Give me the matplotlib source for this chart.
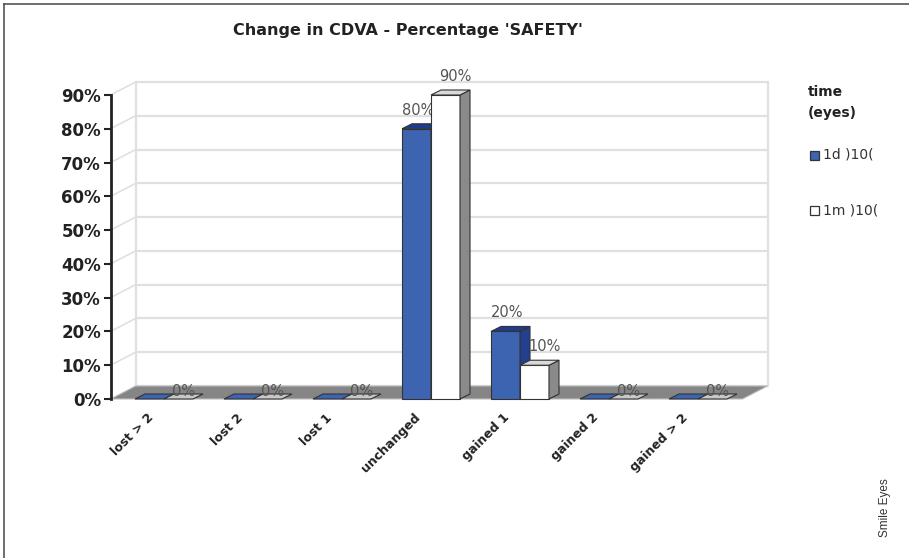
import matplotlib
matplotlib.use("Agg")
import matplotlib.pyplot as plt
from matplotlib.patches import Polygon
from matplotlib.lines import Line2D

categories = ['lost > 2', 'lost 2', 'lost 1', 'unchanged', 'gained 1', 'gained 2', 'gained > 2']
day1 = [0, 0, 0, 80, 20, 0, 0]
month1 = [0, 0, 0, 90, 10, 0, 0]
series_names = ['1d )10(', '1m )10(']
yticks = [0, 10, 20, 30, 40, 50, 60, 70, 80, 90]

# colours of the faux 3d bars: front, top, side
blue = ('#3d64b0', '#1f3d8c', '#22408e')
white = ('#ffffff', '#d9d9d9', '#8a8a8a')

fig = plt.figure(figsize=(9.09, 5.58), dpi=100)
ax = fig.add_axes([110.6 / 909, 159 / 558, 631.9 / 909, 304 / 558])
ax.set_xlim(-0.6, 6.5)
ax.set_ylim(0, 90)

# depth offsets in data units (wall and bars)
px_x = 631.9 / 7.1
px_y = 304 / 90
wdx, wdy = 25 / px_x, 13 / px_y
bdx, bdy = 10 / px_x, 5 / px_y
bw = 29 / px_x

x0, x1 = -0.6, 6.5

# back wall grid and left side wall
for t in yticks:
    ax.plot([x0 + wdx, x1 + wdx], [t + wdy, t + wdy], color='#e0e0e0', lw=1.6,
            zorder=1, clip_on=False, solid_capstyle='butt')
    if t > 0:
        ax.plot([x0, x0 + wdx], [t, t + wdy], color='#e0e0e0', lw=1.2,
                zorder=1, clip_on=False)
ax.plot([x0 + wdx, x0 + wdx], [wdy, 90 + wdy], color='#e0e0e0', lw=1.6, zorder=1, clip_on=False)
ax.plot([x1 + wdx, x1 + wdx], [wdy, 90 + wdy], color='#e0e0e0', lw=1.6, zorder=1, clip_on=False)

# floor
ax.add_patch(Polygon([(x0, 0), (x1, 0), (x1 + wdx, wdy), (x0 + wdx, wdy)],
                     closed=True, facecolor='#858585', edgecolor='#bdbdbd', lw=0.8,
                     zorder=2, clip_on=False))


def bar3d(left, h, cols, z, label_dx, show_zero):
    right = left + bw
    ec = '#333333'
    if h > 0:
        ax.add_patch(Polygon([(left, 0), (right, 0), (right, h), (left, h)],
                             facecolor=cols[0], edgecolor=ec, lw=0.8, zorder=z, clip_on=False))
        ax.add_patch(Polygon([(right, 0), (right, h), (right + bdx, h + bdy), (right + bdx, bdy)],
                             facecolor=cols[2], edgecolor=ec, lw=0.8, zorder=z, clip_on=False))
        top = cols[1]
    else:
        top = cols[0] if cols is blue else '#c8c8c8'
    ax.add_patch(Polygon([(left, h), (right, h), (right + bdx, h + bdy), (left + bdx, h + bdy)],
                         facecolor=top, edgecolor=ec, lw=0.8, zorder=z, clip_on=False))
    if h > 0:
        ax.text(left + bw / 2 + label_dx, h + bdy + 1.8, '%d%%' % h, ha='center', va='bottom',
                fontsize=10.5, color='#555555', zorder=z + 1)
    elif show_zero:
        ax.text(left + bw / 2 + bdx / 2, 2.2, '%d%%' % h, ha='center', va='center',
                fontsize=10.5, color='#555555', zorder=z + 1)


for i in range(len(categories)):
    bar3d(i - bw, day1[i], blue, 3 + i * 2, bdx * 0.2, False)
    bar3d(i, month1[i], white, 4 + i * 2, bdx, True)
    ax.text(i - 0.19, -3.6, categories[i], rotation=45, ha='right', va='top',
            rotation_mode='anchor', fontsize=9, fontweight='bold', color='#222222')

for s in ['top', 'right', 'bottom']:
    ax.spines[s].set_visible(False)
ax.spines['left'].set_linewidth(2)
ax.spines['left'].set_color('#222222')
ax.spines['left'].set_zorder(30)
ax.set_xticks([])
ax.set_yticks(yticks)
ax.set_yticklabels(['%d%%' % t for t in yticks], fontsize=12, fontweight='bold', color='#222222')
ax.tick_params(axis='y', direction='out', length=5, width=1.5, pad=2, color='#222222')
ax.patch.set_visible(False)

fig.text(408 / 909, 1 - 30 / 558, "Change in CDVA - Percentage 'SAFETY'", ha='center', va='center',
         fontsize=11.5, fontweight='bold', color='#222222')

# legend
fig.text(808 / 909, 1 - 92 / 558, 'time', fontsize=10, fontweight='bold', va='center', color='#222222')
fig.text(808 / 909, 1 - 113 / 558, '(eyes)', fontsize=10, fontweight='bold', va='center', color='#222222')
for k, (name, cols) in enumerate(zip(series_names, [blue, white])):
    yc = 155 + 55 * k
    fig.patches.append(plt.Rectangle((810 / 909, 1 - (yc + 4.5) / 558), 9 / 909, 9 / 558,
                                     transform=fig.transFigure, facecolor=cols[0],
                                     edgecolor='#333333', lw=0.9))
    fig.text(823 / 909, 1 - yc / 558, name, fontsize=10, va='center', color='#333333')

fig.text(885 / 909, 1 - 508 / 558, 'Smile Eyes', rotation=90, fontsize=8.5, ha='center', va='center',
         color='#333333', family='Liberation Sans')

# top and left frame of the screenshot
fig.lines.append(Line2D([4 / 909, 1], [1 - 4 / 558, 1 - 4 / 558], transform=fig.transFigure,
                        color='#555555', lw=1.2))
fig.lines.append(Line2D([4 / 909, 4 / 909], [0, 1 - 4 / 558], transform=fig.transFigure,
                        color='#555555', lw=1.2))

fig.savefig('out.png', dpi=100)
